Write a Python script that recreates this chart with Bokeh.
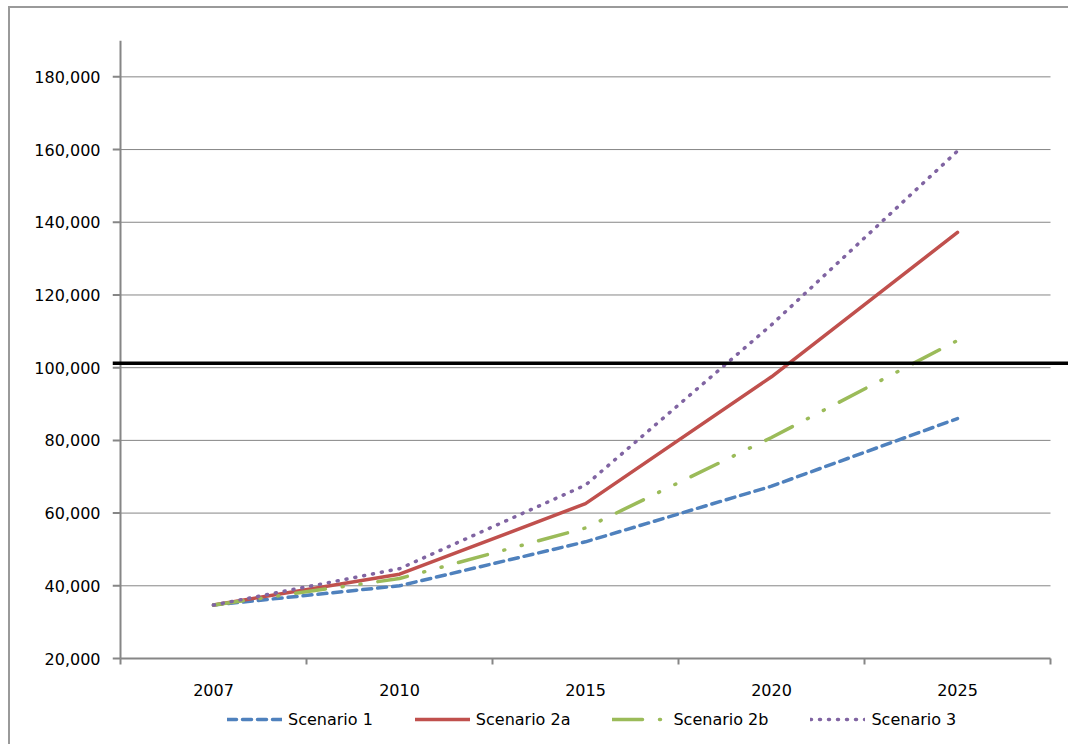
from bokeh.plotting import figure
from bokeh.models import (FixedTicker, NumeralTickFormatter, Legend, LegendItem,
                          Span, ColumnDataSource, Range1d)
from bokeh.core.properties import value
from bokeh.embed import file_html
from bokeh.resources import INLINE

# Projected values per scenario
years = ["2007", "2010", "2015", "2020", "2025"]
scenario_1 = [34700, 40000, 52100, 67400, 86000]
scenario_2a = [34700, 43200, 62600, 97500, 137200]
scenario_2b = [34700, 42000, 55900, 80800, 107500]
scenario_3 = [34700, 44700, 67700, 111800, 159600]
threshold = 101200
y_ticks = [20000, 40000, 60000, 80000, 100000, 120000, 140000, 160000, 180000]
y_min, y_max = 20000, 190000

FONT = "DejaVu Sans"
GRAY = "#868686"

# pixel geometry of the plotting area
SLOT = 186                      # width of one category slot
PX_PER_UNIT = 618 / (y_max - y_min)
x_lo = -8 / SLOT                # frame starts a tick-length left of the axis
x_hi = len(years) + 20 / SLOT   # and runs on to the right edge
y_lo = y_min - 88 / PX_PER_UNIT # room under the axis for year labels and legend

# categories sit at the centres of equal-width slots 0..5
x_pos = [i + 0.5 for i in range(len(years))]
src = ColumnDataSource(dict(x=x_pos, s1=scenario_1, s2a=scenario_2a,
                            s2b=scenario_2b, s3=scenario_3))

p = figure(width=1060, height=738, output_backend="svg", toolbar_location=None,
           x_range=Range1d(x_lo, x_hi), y_range=Range1d(y_lo, y_max),
           x_axis_location=None,
           min_border_left=102, min_border_right=0, min_border_top=32,
           min_border_bottom=0, margin=(6, 0, 0, 8),
           styles={"border-left": "2px solid #9a9a9a", "border-top": "2px solid #9a9a9a"})
p.background_fill_color = "white"
p.border_fill_color = "white"
p.outline_line_color = None
p.xgrid.visible = False
p.ygrid.visible = False

# y tick labels
p.yaxis.ticker = FixedTicker(ticks=y_ticks)
p.yaxis.formatter = NumeralTickFormatter(format="0,0")
p.yaxis.axis_line_color = None
p.yaxis.major_tick_line_color = None
p.yaxis.minor_tick_line_color = None
p.yaxis.major_tick_out = 0
p.yaxis.major_tick_in = 0
p.yaxis.major_label_standoff = 12
p.yaxis.major_label_text_font = FONT
p.yaxis.major_label_text_font_size = "16px"
p.yaxis.major_label_text_color = "black"

# horizontal gridlines across the category slots
grid_y = y_ticks[1:]
p.segment(x0=[0] * len(grid_y), x1=[len(years)] * len(grid_y), y0=grid_y, y1=grid_y,
          line_color=GRAY, line_width=1)
# y axis line and outward ticks
p.segment(x0=[0], x1=[0], y0=[y_min], y1=[y_max], line_color=GRAY, line_width=2)
p.segment(x0=[x_lo] * len(y_ticks), x1=[0] * len(y_ticks), y0=y_ticks, y1=y_ticks,
          line_color=GRAY, line_width=2)
# x axis line and slot-boundary ticks
bounds = list(range(len(years) + 1))
p.segment(x0=[0], x1=[len(years)], y0=[y_min], y1=[y_min], line_color=GRAY, line_width=2)
p.segment(x0=bounds, x1=bounds, y0=[y_min] * len(bounds),
          y1=[y_min - 6 / PX_PER_UNIT] * len(bounds), line_color=GRAY, line_width=2)
# category labels under the axis
p.text(x=x_pos, y=[y_min] * len(years), text=years, y_offset=31,
       text_align="center", text_baseline="middle", text_color="black",
       text_font=value(FONT), text_font_size="16px")

# series
r1 = p.line("x", "s1", source=src, line_color="#4F81BD", line_width=3.5,
            line_dash="9 6", line_cap="round")
r2a = p.line("x", "s2a", source=src, line_color="#C0504D", line_width=3.5,
             line_cap="round")
r2b = p.line("x", "s2b", source=src, line_color="#9BBB59", line_width=3.5,
             line_dash="30 17 1 17 1 17", line_cap="round")
r3 = p.line("x", "s3", source=src, line_color="#8064A2", line_width=3.5,
            line_dash="1 8", line_cap="round")

# threshold line
p.add_layout(Span(location=threshold, dimension="width",
                  line_color="black", line_width=3.5))

legend = Legend(items=[LegendItem(label="Scenario 1", renderers=[r1]),
                       LegendItem(label="Scenario 2a", renderers=[r2a]),
                       LegendItem(label="Scenario 2b", renderers=[r2b]),
                       LegendItem(label="Scenario 3", renderers=[r3])],
                orientation="horizontal", location=(115, 17),
                glyph_width=55, glyph_height=20, label_standoff=6, spacing=42,
                padding=0, margin=0, border_line_alpha=0, background_fill_alpha=0,
                label_text_font=FONT, label_text_font_size="16px",
                label_text_color="black")
p.add_layout(legend, "center")

open("out.html", "w").write(file_html(p, INLINE))
